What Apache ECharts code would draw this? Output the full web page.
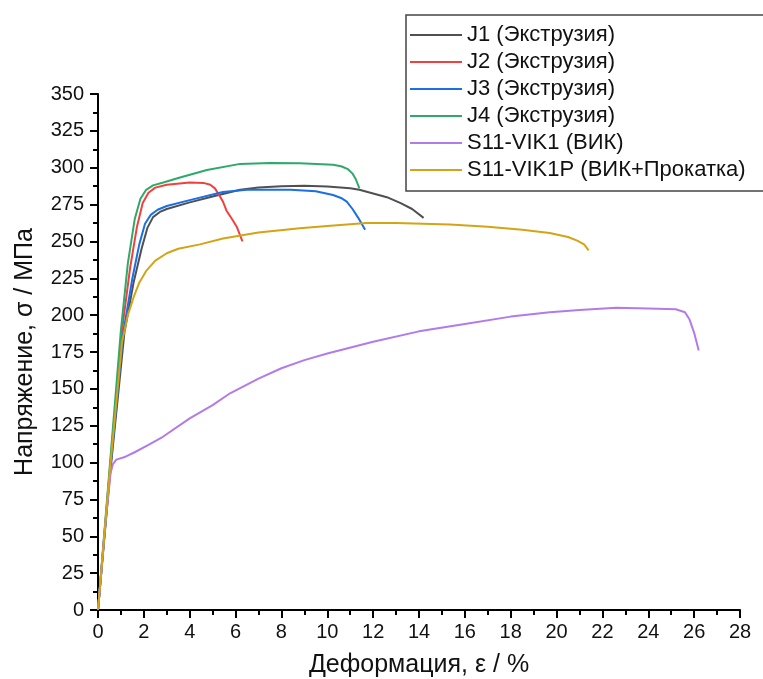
<!DOCTYPE html>
<html>
<head>
<meta charset="utf-8">
<script src="https://cdn.jsdelivr.net/npm/echarts@6/dist/echarts.min.js"></script>
<style>
  html, body { margin: 0; padding: 0; background: #fff; }
  #chart { width: 763px; height: 679px; }
</style>
</head>
<body>
<div id="chart"></div>
<script>
// кривые растяжения: [деформация %, напряжение МПа]
var seriesNames = ['J1 (Экструзия)', 'J2 (Экструзия)', 'J3 (Экструзия)', 'J4 (Экструзия)', 'S11-VIK1 (ВИК)', 'S11-VIK1P (ВИК+Прокатка)'];
var seriesColors = ['#505050', '#f0413f', '#1b6fe4', '#2fa96a', '#b37be8', '#d4a416'];

var j1 = [[0,0],[0.5,88],[1.15,188],[1.55,222],[1.9,245],[2.15,259],[2.4,266.5],[2.7,270],[3,272],[4,276.5],[5,280.5],[6.2,285],[7,286.5],[8,287.5],[9,287.8],[10,287.3],[11,286],[11.4,285],[12,282.5],[12.6,280],[13.2,276],[13.7,272],[14.2,266]];
var j2 = [[0,0],[0.5,92],[1.05,190],[1.4,232],[1.7,260],[1.95,276],[2.2,283],[2.5,286.5],[3,288.5],[4,290],[4.6,289.7],[4.9,288.5],[5.1,286],[5.3,281],[5.45,277],[5.6,271],[5.85,265],[6.05,260],[6.3,250]];
var j3 = [[0,0],[0.5,90],[1.1,188],[1.5,225],[1.8,248],[2.05,262],[2.3,268],[2.6,271.5],[3,274],[4,278],[5.45,283.5],[6.5,285],[7.4,285],[8.4,285],[9.5,284],[10.25,281.5],[10.6,279.5],[10.85,277],[11.1,272],[11.35,266],[11.65,258]];
var j4 = [[0,0],[0.5,95],[1.0,190],[1.3,235],[1.6,265],[1.85,279],[2.1,285],[2.4,288],[2.85,290],[3.5,293],[4.75,298.5],[6.2,302.6],[7.5,303.2],[8.8,303],[10.25,302],[10.6,301],[10.9,299],[11.1,296],[11.25,292],[11.4,286]];
var vik1 = [[0,0],[0.3,55],[0.55,93],[0.65,99],[0.8,102],[1.2,104],[1.6,107],[2.2,112],[2.83,117.5],[4,130],[5,139],[5.76,147],[7,157],[8,164],[9,169.5],[10,174],[12,182],[14,189],[16,194],[18,199],[19.7,202],[21,203.5],[22.6,205],[24,204.5],[25.2,204],[25.6,202],[25.8,197],[26,188],[26.2,176]];
var vik1p = [[0,0],[0.5,92],[1.05,182],[1.3,200],[1.55,212],[1.8,222],[2.1,230],[2.5,237],[3,242],[3.5,245],[4.45,248],[5.45,252],[7,256],[8.8,259],[10,260.5],[11.7,262.5],[13,262.5],[15.35,261.5],[17,260],[18.5,258],[19.7,255.7],[20.5,253],[20.9,250.5],[21.2,248],[21.4,244]];
var curves = [j1, j2, j3, j4, vik1, vik1p];

var myChart = echarts.init(document.getElementById('chart'));

var series = curves.map(function (d, i) {
    return {
        name: seriesNames[i],
        type: 'line',
        data: d,
        symbol: 'none',
        smooth: false,
        lineStyle: { color: seriesColors[i], width: 2 },
        itemStyle: { color: seriesColors[i] }
    };
});

var option = {
    animation: false,
    textStyle: { fontFamily: 'Liberation Sans' },
    legend: {
        orient: 'vertical',
        left: 406,
        top: 15,
        padding: [9, 40, 10, 4],
        icon: 'rect',
        itemWidth: 52,
        itemHeight: 2,
        itemGap: 5,
        borderColor: '#444',
        borderWidth: 1.5,
        textStyle: { fontSize: 22, color: '#111', fontFamily: 'Liberation Sans' },
        data: seriesNames
    },
    grid: { left: 98, right: 23, top: 94, bottom: 69, outerBoundsMode: 'none' },
    xAxis: {
        type: 'value',
        min: 0,
        max: 28,
        interval: 2,
        name: 'Деформация, ε / %',
        nameLocation: 'middle',
        nameGap: 43,
        nameTextStyle: { fontSize: 25, color: '#111' },
        axisLine: { lineStyle: { color: '#000', width: 2 } },
        axisTick: { length: 8, lineStyle: { color: '#000', width: 2 } },
        minorTick: { show: true, splitNumber: 2, length: 5, lineStyle: { color: '#000', width: 2 } },
        axisLabel: { fontSize: 20, color: '#111', margin: 12 },
        splitLine: { show: false }
    },
    yAxis: {
        type: 'value',
        min: 0,
        max: 350,
        interval: 25,
        name: 'Напряжение, σ / МПа',
        nameLocation: 'middle',
        nameGap: 60,
        nameTextStyle: { fontSize: 25, color: '#111' },
        axisLine: { show: true, lineStyle: { color: '#000', width: 2 } },
        axisTick: { show: true, length: 8, lineStyle: { color: '#000', width: 2 } },
        minorTick: { show: true, splitNumber: 2, length: 5, lineStyle: { color: '#000', width: 2 } },
        axisLabel: { fontSize: 20, color: '#111', margin: 14 },
        splitLine: { show: false }
    },
    series: series
};

myChart.setOption(option);
window.addEventListener('resize', function () {
    myChart.resize();
});
</script>
</body>
</html>
